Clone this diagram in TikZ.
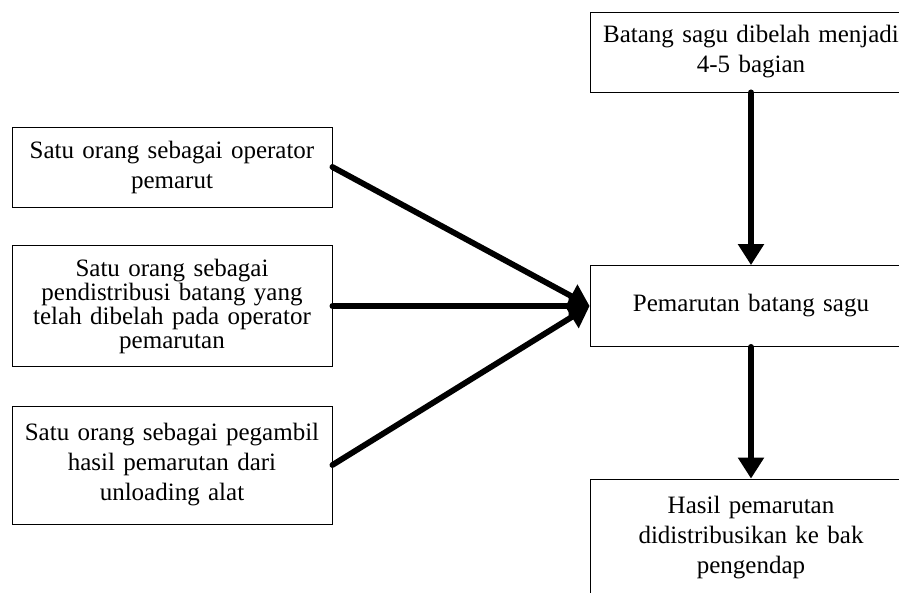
\documentclass[tikz,border=0pt]{standalone}
\usepackage{fontspec}
\setmainfont{Liberation Serif}
\usetikzlibrary{arrows.meta}

\begin{document}
\begin{tikzpicture}[x=1pt,y=-1pt,
	box/.style={draw,line width=0.8pt,align=center,inner xsep=10pt,inner ysep=0pt,
		text width=300pt,font=\fontsize{25}{30}\selectfont},
	flow/.style={line width=5.8pt,line cap=round,-{Triangle[length=21pt,width=25pt]}}]
	\path[use as bounding box,clip] (0,0) rectangle (899,593);

	\node[box,minimum height=80pt] (op) at (172,167) {Satu orang sebagai operator\\ pemarut};
	\node[box,minimum height=121pt,font=\fontsize{25}{24}\selectfont] (dist) at (172,306)
	{Satu orang sebagai\\ pendistribusi batang yang\\ telah dibelah pada operator\\ pemarutan};
	\node[box,minimum height=118pt] (ambil) at (172,465) {Satu orang sebagai pegambil\\ hasil pemarutan dari\\ unloading alat};

	\node[box,text width=302pt,minimum height=80pt] (belah) at (751,52) {Batang sagu dibelah menjadi\\ 4-5 bagian};
	\node[box,text width=302pt,minimum height=81pt] (parut) at (751,306) {Pemarutan batang sagu};
	\node[box,text width=302pt,minimum height=118pt] (hasil) at (751,538) {Hasil pemarutan\\ didistribusikan ke bak\\ pengendap};

	\foreach \src in {op, dist, ambil}
	\draw[flow] (\src.east) -- (parut.west);
	\draw[flow] (belah) -- (parut);
	\draw[flow] (parut) -- (hasil);
\end{tikzpicture}
\end{document}
